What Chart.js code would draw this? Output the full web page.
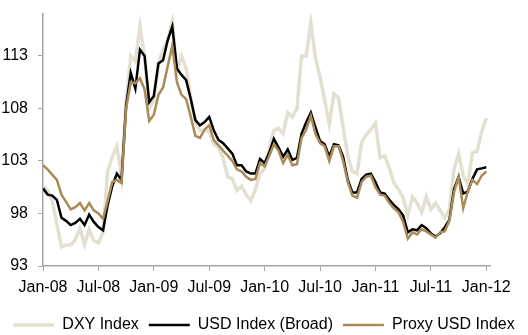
<!DOCTYPE html>
<html>
<head>
<meta charset="utf-8">
<script src="https://cdn.jsdelivr.net/npm/chart.js@4.4.1/dist/chart.umd.min.js"></script>
<style>
  body { margin: 0; background: #fff; }
  #wrap { width: 528px; height: 335px; }
</style>
</head>
<body>
<div id="wrap"><canvas id="myChart"></canvas></div>
<script>
// half-monthly readings, Jan-08 .. Jan-12
var tickLabels = ["Jan-08", "Jul-08", "Jan-09", "Jul-09", "Jan-10", "Jul-10", "Jan-11", "Jul-11", "Jan-12"];
var xTicks = [0, 6, 12, 18, 24, 30, 36, 42, 48];
var yTicks = [93, 98, 103, 108, 113];

var dxy = [100.6, 100.2, 99.2, 97.0, 94.8, 95.0, 95.0, 95.5, 96.6, 95.0,
           96.5, 95.4, 95.2, 96.2, 102.0, 103.4, 104.4, 101.5, 108.5, 113.0,
           112.5, 115.8, 112.9, 108.0, 108.8, 112.3, 113.6, 114.5, 116.3, 111.5,
           113.0, 111.8, 109.0, 106.7, 105.9, 105.9, 105.8, 104.6, 104.3, 103.3,
           101.5, 101.3, 100.2, 100.6, 99.8, 99.2, 100.3, 101.8, 102.3, 104.2,
           105.9, 106.1, 105.6, 107.6, 107.2, 108.0, 113.0, 113.0, 116.2, 112.8,
           111.0, 108.8, 106.5, 109.4, 109.0, 106.2, 103.5, 102.0, 101.8, 104.8,
           105.5, 106.0, 106.6, 103.3, 103.5, 102.3, 100.9, 100.3, 99.5, 97.8,
           99.6, 99.0, 98.1, 99.6, 98.4, 99.0, 98.3, 97.6, 98.4, 102.2,
           103.7, 101.6, 100.8, 103.8, 103.9, 105.8, 107.1];

var usdBroad = [100.4, 99.8, 99.7, 99.3, 97.6, 97.3, 96.9, 97.1, 97.5, 96.9,
                97.9, 97.2, 96.7, 96.4, 98.8, 100.6, 101.8, 101.2, 108.3, 111.4,
                109.9, 113.6, 113.0, 108.6, 109.2, 112.3, 112.6, 114.5, 115.8, 111.8,
                111.2, 110.7, 108.9, 106.9, 106.4, 106.7, 107.2, 105.9, 105.0, 104.7,
                104.2, 103.7, 102.6, 102.6, 102.0, 101.8, 101.8, 103.2, 102.8, 103.8,
                105.1, 104.3, 103.4, 104.1, 103.1, 103.3, 105.6, 106.7, 107.6, 106.2,
                104.9, 104.6, 103.4, 104.6, 104.5, 103.4, 101.2, 100.0, 100.0, 101.3,
                101.7, 101.8, 101.0, 100.0, 99.9, 99.3, 98.8, 98.4, 97.8, 96.2,
                96.5, 96.4, 96.9, 96.6, 96.1, 95.8, 96.1, 96.7, 97.4, 100.3,
                101.5, 99.9, 100.1, 101.3, 102.2, 102.3, 102.4];

var proxyUsd = [102.6, 102.2, 101.7, 101.2, 99.8, 99.1, 98.4, 98.6, 99.0, 98.3,
                99.0, 98.3, 98.0, 97.5, 99.2, 101.0, 101.2, 100.9, 108.0, 110.5,
                110.4, 110.9, 109.8, 106.8, 107.4, 109.3, 110.0, 112.0, 114.0, 110.5,
                109.3, 108.9, 107.2, 105.4, 105.2, 106.0, 106.4, 105.0, 104.5, 104.0,
                103.5, 103.0, 102.2, 102.0, 101.5, 101.2, 101.3, 102.8, 102.5, 103.5,
                104.6, 104.0, 102.8, 103.6, 102.6, 102.7, 105.2, 106.0, 107.3, 105.6,
                104.7, 104.4, 103.0, 104.4, 104.4, 103.0, 101.0, 99.7, 99.5, 101.0,
                101.5, 101.6, 100.5, 99.8, 99.7, 99.0, 98.5, 98.1, 97.2, 95.6,
                96.2, 96.0, 96.5, 96.3, 96.0, 95.7, 96.2, 96.3, 97.3, 100.0,
                101.5, 98.5, 100.1, 101.2, 100.8, 101.6, 102.0];

function toPoints(values) {
    return values.map(function (v, i) { return { x: i * 0.5, y: v }; });
}

var font = { family: "'Liberation Sans', Arial, Helvetica, sans-serif", size: 16 };
var axisGrey = "#a6a6a6";

var ctx = document.getElementById("myChart").getContext('2d');

var myChart = new Chart(ctx, {
    type: 'line',
    data: {
        datasets: [
            {
                label: "DXY Index",
                data: toPoints(dxy),
                borderColor: "#e3e0d1",
                backgroundColor: "#e3e0d1",
                borderWidth: 3.5,
                order: 3
            },
            {
                label: "USD Index (Broad)",
                data: toPoints(usdBroad),
                borderColor: "#000000",
                backgroundColor: "#000000",
                borderWidth: 2.5,
                order: 2
            },
            {
                label: "Proxy USD Index",
                data: toPoints(proxyUsd),
                borderColor: "#a88b56",
                backgroundColor: "#a88b56",
                borderWidth: 2.5,
                order: 1
            }
        ]
    },
    options: {
        responsive: true,
        maintainAspectRatio: false,
        animation: false,
        elements: {
            point: { radius: 0 },
            line: { tension: 0 }
        },
        layout: { padding: { top: 14, right: 0, left: 0, bottom: -8 } },
        plugins: {
            tooltip: { enabled: false },
            legend: {
                position: 'bottom',
                labels: {
                    font: font,
                    color: "#000",
                    usePointStyle: true,
                    pointStyle: 'line',
                    pointStyleWidth: 41,
                    padding: 10,
                    sort: function (a, b) { return a.datasetIndex - b.datasetIndex; }
                }
            }
        },
        scales: {
            x: {
                type: 'linear',
                min: 0,
                max: 48.4,
                afterBuildTicks: function (scale) {
                    scale.ticks = xTicks.map(function (v) { return { value: v }; });
                },
                afterFit: function (scale) { scale.height = 41; },
                ticks: {
                    font: font,
                    color: "#000",
                    padding: 7,
                    maxRotation: 0,
                    autoSkip: false,
                    callback: function (value) {
                        return tickLabels[xTicks.indexOf(value)];
                    }
                },
                grid: { drawOnChartArea: false, tickLength: 5, color: axisGrey },
                border: { color: axisGrey, width: 1.5 }
            },
            y: {
                min: 93,
                max: 117,
                afterBuildTicks: function (scale) {
                    scale.ticks = yTicks.map(function (v) { return { value: v }; });
                },
                afterFit: function (scale) {
                    scale.width = 43;
                    scale.paddingTop = 0;
                    scale.paddingBottom = 0;
                },
                ticks: {
                    font: font,
                    color: "#000",
                    padding: 10
                },
                grid: { drawOnChartArea: false, tickLength: 5, color: axisGrey },
                border: { color: axisGrey, width: 1.5 }
            },
            // empty right margin so the plot stops at Jan-12
            pad: {
                position: 'right',
                display: true,
                afterFit: function (scale) {
                    scale.width = 38;
                    scale.paddingTop = 0;
                    scale.paddingBottom = 0;
                },
                ticks: { display: false },
                grid: { display: false },
                border: { display: false }
            }
        }
    }
});
</script>
</body>
</html>
